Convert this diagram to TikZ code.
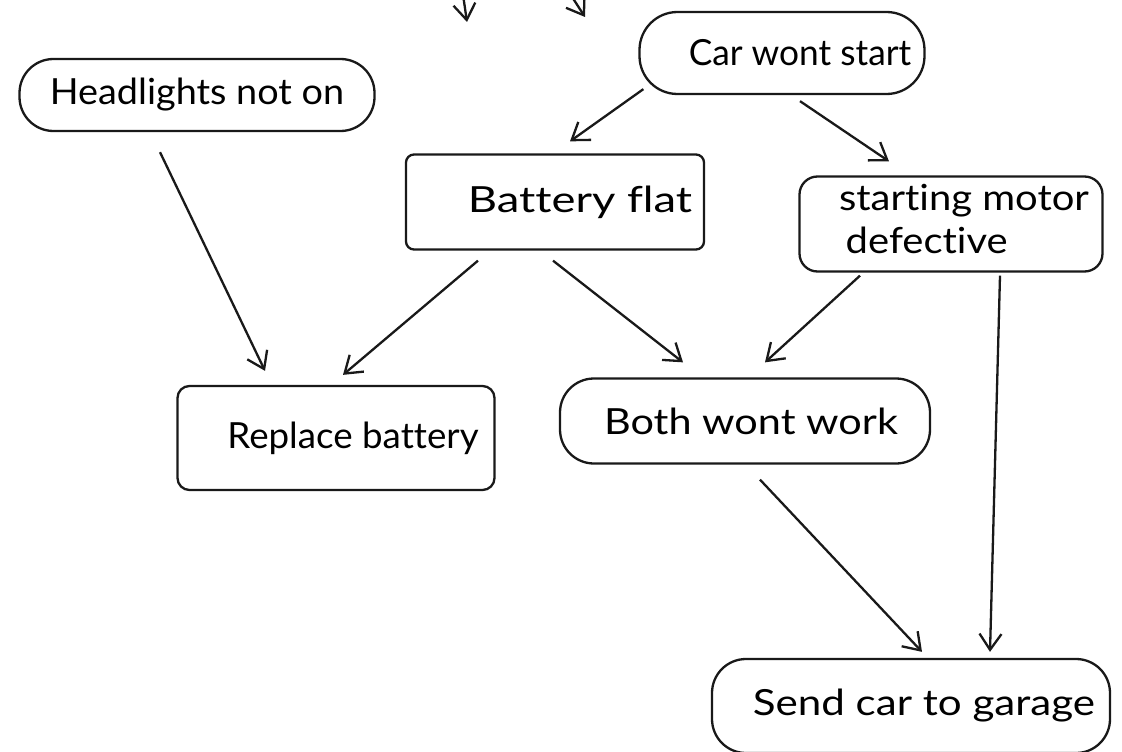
\documentclass[tikz,border=0pt]{standalone}
\usepackage{fontspec}
\setmainfont{Lato}[Ligatures=NoCommon]
\usetikzlibrary{arrows.meta,calc}
\tikzset{
  ink/.style={line width=2.3pt, draw=black!90},
  pill/.style={ink, rounded corners=34pt, inner sep=0pt, font=\fontsize{36}{40}\selectfont},
  boxy/.style={ink, rounded corners=8pt, inner sep=0pt, font=\fontsize{36}{40}\selectfont},
  arr/.style={ink, -{Straight Barb[length=16pt,width=22pt,line width=2.3pt]}},
}
\newcommand{\wide}[2]{\scalebox{#1}[1]{#2}}
\begin{document}
\begin{tikzpicture}[x=1pt,y=-1pt]
\useasboundingbox (0,0) rectangle (1122,752);
\fill[white] (0,0) rectangle (1122,752);
\clip (0,0) rectangle (1122,752);

% boxes
\node[pill, minimum width=355pt, minimum height=72pt] (head) at (197,95) {\wide{1.05}{Headlights not on}};
\node[pill, rounded corners=38pt, minimum width=285pt, minimum height=82pt] (car) at (782,53) {\hspace*{36pt}\wide{0.98}{Car wont start}};
\node[boxy, minimum width=298pt, minimum height=95pt] (batt) at (555,202) {\hspace*{50pt}\wide{1.26}{Battery flat}};
\node[boxy, rounded corners=18pt, minimum width=303pt, minimum height=95pt] (motor) at (951,224)
  {\hspace*{26pt}\wide{1.11}{\begin{tabular}{@{}l@{}}starting motor\\[3pt] \hspace*{6pt}defective\end{tabular}}};
\node[boxy, rounded corners=12pt, minimum width=317pt, minimum height=104pt] (rep) at (336,438) {\hspace*{34pt}\wide{1.02}{Replace battery}};
\node[pill, minimum width=370pt, minimum height=85pt] (both) at (745,421) {\hspace*{12pt}\wide{1.15}{Both wont work}};
\node[pill, minimum width=398pt, minimum height=94pt] (send) at (911,706) {\hspace*{26pt}\wide{1.17}{Send car to garage}};

% connectors coming in from above
\coordinate (in1) at (455,-60);
\coordinate (tip1) at (467,22);
\coordinate (in2) at (545,-45);
\coordinate (tip2) at (585,17);
\draw[arr] (in1) -- (tip1);
\draw[arr] (in2) -- (tip2);

% flow arrows
\draw[arr] ($(head.south)+(-37,20)$) -- ($(rep.north)+(-71,-14)$);
\draw[arr] ($(car.south west)+(5,-6)$) -- ($(batt.north)+(15,-12)$);
\draw[arr] ($(car.south)+(18,6)$) -- ($(motor.north)+(-62,-14)$);
\draw[arr] ($(batt.south)+(-77,10)$) -- ($(rep.north)+(7,-10)$);
\draw[arr] ($(batt.south)+(-2,10)$) -- ($(both.north)+(-62,-15)$);
\draw[arr] ($(motor.south)+(-91,3)$) -- ($(both.north)+(20,-15)$);
\draw[arr] ($(motor.south)+(49,3)$) -- ($(send.north)+(79,-6)$);
\draw[arr] ($(both.south)+(15,15)$) -- ($(send.north)+(11,-6)$);
\end{tikzpicture}
\end{document}
